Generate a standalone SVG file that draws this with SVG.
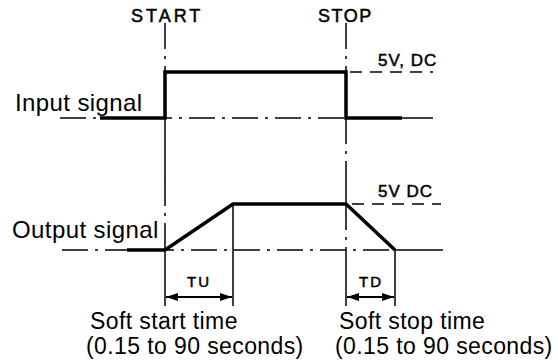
<svg xmlns="http://www.w3.org/2000/svg" width="558" height="363" viewBox="0 0 558 363">
<defs>
<style>
text{font-family:"Liberation Sans",Arial,sans-serif;fill:#000}
.lbl{font-size:23px;letter-spacing:0.4px}
.sm{font-size:18px;letter-spacing:1px;stroke:#000;stroke-width:0.5}
.tn{fill:none;stroke:#000;stroke-width:1.5}
.dd{fill:none;stroke:#000;stroke-width:1.5;stroke-dasharray:26 7 3 7}
.dh{fill:none;stroke:#000;stroke-width:1.5;stroke-dasharray:12 8}
.tk{fill:none;stroke:#000;stroke-width:3.5;stroke-linejoin:miter}
.ar{fill:none;stroke:#000;stroke-width:2;marker-start:url(#ah);marker-end:url(#ah)}
</style>
<marker id="ah" viewBox="0 0 12 8" refX="12" refY="4" markerWidth="12" markerHeight="8" markerUnits="userSpaceOnUse" orient="auto-start-reverse">
<path d="M0,0 L12,4 L0,8 Z" fill="#000"/>
</marker>
</defs>
<g id="connectors">
<path class="dd" d="M165,23 V72"/>
<path class="tn" d="M165,118 V180"/>
<path class="dd" d="M165,180 V250"/>
<path class="tn" d="M165,250 V306"/>
<path class="dd" d="M346,23 V72"/>
<path class="dd" d="M346,118 V180"/>
<path class="tn" d="M346,180 V204"/>
<path class="dd" d="M346,204 V250"/>
<path class="tn" d="M346,250 V306"/>
<path class="tn" d="M233,204 V306"/>
<path class="tn" d="M395,250 V306"/>
<path class="dd" d="M60,118 H346"/>
<path class="tn" d="M402,118 H433"/>
<path class="dh" d="M350,72 H433"/>
<path class="dh" d="M352,204 H441"/>
<path class="dd" d="M62,250 H395"/>
<path class="tn" d="M395,250 H443"/>
<path class="ar" d="M166,297 H232"/>
<path class="ar" d="M347,297 H394"/>
</g>
<g id="input-signal">
<path class="tk" d="M100,118 H165 V72 H346 V118 H402"/>
<text class="lbl" x="15" y="111" style="font-size:24px">Input signal</text>
</g>
<g id="output-signal">
<path class="tk" d="M127,250 H165 L233,204 H346 L395,250"/>
<text class="lbl" x="12" y="238" style="font-size:24px">Output signal</text>
</g>
<g id="start-label">
<text class="sm" x="131" y="22" style="letter-spacing:3px">START</text>
</g>
<g id="stop-label">
<text class="sm" x="318" y="22" style="letter-spacing:1.5px">STOP</text>
</g>
<g id="v-labels">
<text class="sm" x="378" y="66" style="font-size:17px">5V, DC</text>
<text class="sm" x="378" y="197" style="font-size:17px">5V DC</text>
</g>
<g id="tu">
<text class="sm" x="199" y="287" text-anchor="middle" style="font-size:15px;letter-spacing:2px">TU</text>
<text class="lbl" x="90" y="329">Soft start time</text>
<text class="lbl" x="86" y="354">(0.15 to 90 seconds)</text>
</g>
<g id="td">
<text class="sm" x="371" y="287" text-anchor="middle" style="font-size:15px;letter-spacing:2px">TD</text>
<text class="lbl" x="339" y="329">Soft stop time</text>
<text class="lbl" x="335" y="354">(0.15 to 90 seconds)</text>
</g>
</svg>
